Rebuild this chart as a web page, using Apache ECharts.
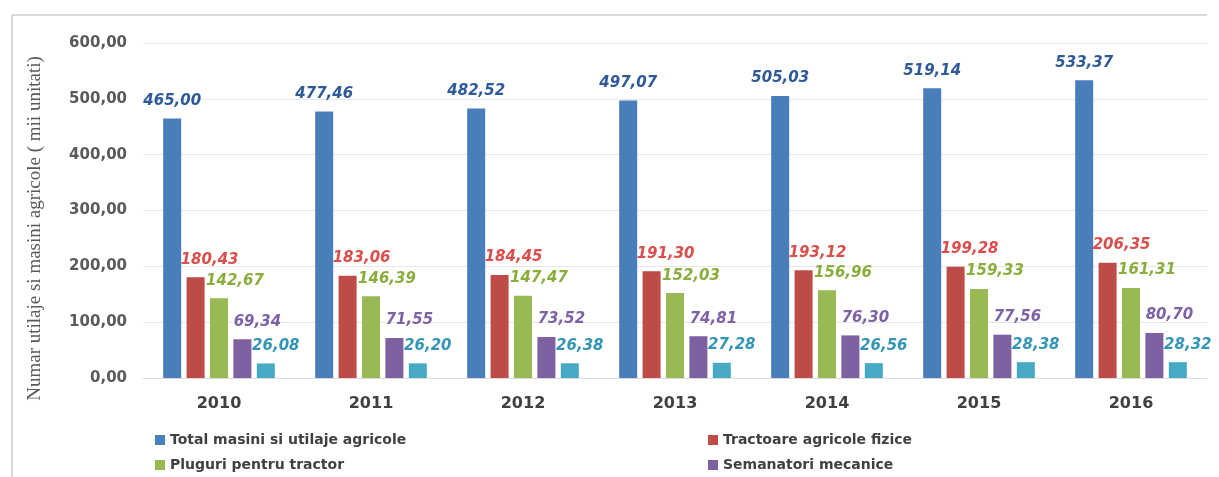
<!DOCTYPE html>
<html>
<head>
<meta charset="utf-8">
<script src="https://cdn.jsdelivr.net/npm/echarts@6/dist/echarts.min.js"></script>
<style>html,body{margin:0;padding:0;background:#fff;}#c{width:1219px;height:477px;}</style>
</head>
<body>
<div id="c"></div>
<script>
const years = ['2010','2011','2012','2013','2014','2015','2016'];
const yTicks = [0,100,200,300,400,500,600];
const nameTotal = 'Total masini si utilaje agricole';
const nameTract = 'Tractoare agricole fizice';
const namePlug = 'Pluguri pentru tractor';
const nameSem = 'Semanatori mecanice';
const nameFifth = 'Alte utilaje';
const total = [465.00, 477.46, 482.52, 497.07, 505.03, 519.14, 533.37];
const tractoare = [180.43, 183.06, 184.45, 191.30, 193.12, 199.28, 206.35];
const pluguri = [142.67, 146.39, 147.47, 152.03, 156.96, 159.33, 161.31];
const semanatori = [69.34, 71.55, 73.52, 74.81, 76.30, 77.56, 80.70];
const fifth = [26.08, 26.20, 26.38, 27.28, 26.56, 28.38, 28.32];

const fmt = v => v.toFixed(2).replace('.', ',');
const FONT = 'DejaVu Sans';

function mkSeries(name, data, color, labelColor, dx) {
  return {
    name: name, type: 'bar', data: data, barWidth: 18, barGap: '30%',
    itemStyle: { color: color },
    label: {
      show: true, position: 'top', distance: 10, offset: [dx, 0],
      formatter: p => fmt(p.value),
      color: labelColor, fontFamily: FONT, fontSize: 15, fontWeight: 'bold', fontStyle: 'italic'
    }
  };
}

const chart = echarts.init(document.getElementById('c'));
chart.setOption({
  backgroundColor: '#fff',
  animation: false,
  graphic: [
    { type: 'line', shape: { x1: 12, y1: 15, x2: 1207, y2: 15 }, style: { stroke: '#D9D9D9', lineWidth: 2 } },
    { type: 'line', shape: { x1: 12, y1: 15, x2: 12, y2: 477 }, style: { stroke: '#D9D9D9', lineWidth: 2 } }
  ],
  grid: { left: 143, right: 12, top: 43, bottom: 99 },
  legend: [
    {
      data: [nameTotal, namePlug], orient: 'vertical', left: 150, top: 428, itemGap: 11,
      itemWidth: 10, itemHeight: 10, icon: 'rect',
      textStyle: { color: '#404040', fontFamily: FONT, fontSize: 14, fontWeight: 'bold' }
    },
    {
      data: [nameTract, nameSem], orient: 'vertical', left: 703, top: 428, itemGap: 11,
      itemWidth: 10, itemHeight: 10, icon: 'rect',
      textStyle: { color: '#404040', fontFamily: FONT, fontSize: 14, fontWeight: 'bold' }
    }
  ],
  xAxis: {
    type: 'category', data: years,
    axisLine: { lineStyle: { color: '#D9D9D9' } },
    axisTick: { show: false },
    axisLabel: { color: '#404040', fontFamily: FONT, fontSize: 16, fontWeight: 'bold', margin: 18 }
  },
  yAxis: {
    type: 'value', min: yTicks[0], max: yTicks[yTicks.length - 1], interval: 100,
    name: 'Numar utilaje si masini agricole ( mii unitati)',
    nameLocation: 'middle', nameGap: 98, nameRotate: 90,
    nameTextStyle: { color: '#595959', fontFamily: 'Liberation Serif', fontSize: 19, padding: [0, 36, 0, 0] },
    axisLine: { show: false }, axisTick: { show: false },
    axisLabel: { color: '#595959', fontFamily: FONT, fontSize: 15, fontWeight: 'bold', margin: 16, formatter: v => fmt(v) },
    splitLine: { lineStyle: { color: '#E6E6E6' } }
  },
  series: [
    mkSeries(nameTotal, total, '#4A7EBB', '#2E5A9A', 0),
    mkSeries(nameTract, tractoare, '#BE4B48', '#DA4F4B', 14),
    mkSeries(namePlug, pluguri, '#98B954', '#8AAE3C', 16),
    mkSeries(nameSem, semanatori, '#7D60A0', '#7D62A6', 15),
    mkSeries(nameFifth, fifth, '#46AAC5', '#3395B5', 10)
  ]
});
</script>
</body>
</html>
